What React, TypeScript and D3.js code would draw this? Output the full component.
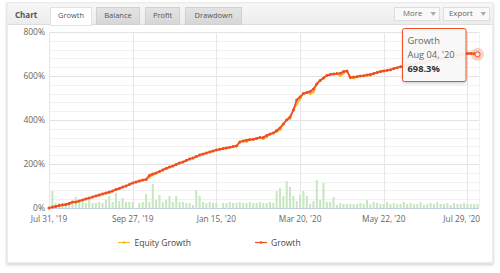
import React from 'react';
import * as d3 from 'd3';

const growth = [
  0, 4.5, 7, 11, 14, 16, 20, 27, 27, 32,
  36, 41, 45, 50, 55, 59, 64, 68, 73, 77,
  84, 89, 95, 100, 107, 114, 118, 123, 127, 130,
  148, 155, 159, 166, 173, 180, 186, 191, 198, 205,
  209, 216, 223, 227, 234, 241, 245, 250, 255, 259,
  264, 267, 270, 273, 276, 279, 282, 300, 305, 308,
  311, 312, 316, 320, 321, 330, 336, 341, 352, 364,
  382, 400, 414, 445, 491, 505, 520, 525, 530, 541,
  564, 580, 591, 602, 607, 609, 611, 612, 620, 623,
  594, 595, 597, 600, 601, 605, 607, 611, 616, 620,
  623, 626, 628, 634, 637, 642, 644, 649, 651, 655,
  657, 662, 663, 667, 669, 674, 675, 679, 681, 686,
  687, 692, 693, 697, 700, 702, 703, 701, 698.3,
];

const equity = [
  0, 4.5, 7, 9, 14, 13, 17, 27, 27, 32,
  36, 41, 45, 50, 55, 59, 64, 68, 68, 77,
  84, 89, 95, 100, 107, 114, 118, 123, 127, 130,
  140, 150, 159, 166, 173, 180, 186, 191, 198, 205,
  209, 216, 223, 227, 234, 241, 245, 250, 255, 259,
  264, 267, 270, 273, 276, 279, 282, 300, 305, 300,
  311, 312, 316, 320, 314, 322, 336, 341, 345, 355,
  382, 400, 405, 445, 470, 495, 520, 525, 518, 527,
  564, 580, 591, 602, 607, 609, 611, 600, 612, 623,
  590, 590, 597, 600, 601, 605, 602, 611, 616, 620,
  623, 626, 628, 634, 637, 642, 644, 649, 651, 655,
  654, 662, 663, 667, 669, 674, 675, 674, 681, 686,
  687, 692, 693, 697, 700, 702, 703, 701, 698.3,
];

const volume = [
  0, 17, 5, 5, 5, 5, 6, 5, 11, 6,
  6, 5, 8, 5, 5, 6, 5, 8, 12, 6,
  15, 7, 10, 6, 6, 6, 0, 5, 6, 14,
  6, 24, 8, 13, 6, 8, 12, 6, 12, 6,
  6, 5, 5, 3, 18, 12, 6, 5, 6, 5,
  5, 0, 5, 5, 6, 5, 5, 6, 5, 5,
  6, 5, 5, 6, 5, 5, 6, 5, 17, 20,
  12, 27, 21, 12, 7, 13, 17, 12, 4, 7,
  28, 8, 25, 6, 6, 11, 3, 5, 4, 4,
  4, 4, 4, 5, 4, 8, 4, 6, 5, 4,
  4, 6, 4, 5, 4, 4, 6, 4, 5, 4,
  4, 6, 3, 4, 5, 4, 6, 4, 4, 5,
  3, 5, 4, 4, 5, 4, 4, 4, 4,
];

const tickIndex = [0, 25, 50, 75, 100, 125];
const tickLabels = ["Jul 31, '19", "Sep 27, '19", "Jan 15, '20", "Mar 20, '20", "May 22, '20", "Jul 29, '20"];
const yTicks = [0, 200, 400, 600, 800];
const tabs = ['Growth', 'Balance', 'Profit', 'Drawdown'];
const tabX = [50, 96, 145, 185];
const tabW = [41, 43, 34, 56];
const seriesNames = ['Equity Growth', 'Growth'];

const RED = '#ef4f26';
const YEL = '#f7bd22';
const FONT = '"Open Sans", sans-serif';

export default function App() {
  const left = 49, right = 479, top = 32, bottom = 208;
  const x = d3.scaleLinear().domain([0, growth.length - 1]).range([49, 477.5]);
  const y = d3.scaleLinear().domain([0, 800]).range([bottom, top]);
  const yv = d3.scaleLinear().domain([0, 30]).range([bottom, bottom - 30]);
  const line = d3.line<number>().x((_, i) => x(i)).y((d) => y(d));
  const minor = d3.range(0, 801, 40);
  const last = growth.length - 1;
  const mx = x(last), my = y(growth[last]);

  return (
    <svg width={500} height={273} style={{ position: 'absolute', left: 0, top: 0 }} fontFamily={FONT}>
      <defs>
        <linearGradient id="hdr" x1="0" x2="0" y1="0" y2="1">
          <stop offset="0" stopColor="#f7f7f7" />
          <stop offset="1" stopColor="#ececec" />
        </linearGradient>
        <linearGradient id="tab" x1="0" x2="0" y1="0" y2="1">
          <stop offset="0" stopColor="#e4e4e4" />
          <stop offset="1" stopColor="#d6d6d6" />
        </linearGradient>
        <filter id="sh" x="-5%" y="-5%" width="110%" height="115%">
          <feDropShadow dx="0" dy="1.5" stdDeviation="1.2" floodColor="#000" floodOpacity="0.18" />
        </filter>
      </defs>
      <rect x={0} y={0} width={500} height={273} fill="#fff" />
      {/* panel */}
      <rect x={7} y={3} width={486} height={260} fill="#fff" stroke="#dcdcdc" filter="url(#sh)" />
      <rect x={7.5} y={3.5} width={485} height={21} fill="url(#hdr)" />
      <line x1={7.5} x2={492.5} y1={24.5} y2={24.5} stroke="#dddddd" />
      <text x={15} y={18} fontSize={8} fontWeight="bold" fill="#555">Chart</text>
      {tabs.map((t, i) => (
        <g key={t}>
          <rect x={tabX[i] + 0.5} y={7.5} width={tabW[i]} height={i === 0 ? 18 : 17}
            fill={i === 0 ? '#fff' : 'url(#tab)'} stroke={i === 0 ? '#e2e2e2' : '#d0d0d0'} />
          <text x={tabX[i] + 0.5 + tabW[i] / 2} y={18.2} fontSize={7.5} fill="#555" textAnchor="middle">{t}</text>
        </g>
      ))}
      {i0Fix()}
      {/* buttons */}
      <rect x={394.5} y={7.5} width={45} height={13} fill="#f9f9f9" stroke="#dddddd" />
      <text x={403} y={16.3} fontSize={7.8} fill="#666">More</text>
      <path d="M430.5,12 L436,12 L433.25,16 Z" fill="#aaa" />
      <rect x={443.5} y={7.5} width={46} height={13} fill="#f9f9f9" stroke="#dddddd" />
      <text x={449} y={16.3} fontSize={7.8} fill="#666">Export</text>
      <path d="M480.5,12 L486,12 L483.25,16 Z" fill="#aaa" />

      {/* grid */}
      {minor.map((v) => (
        <line key={'m' + v} x1={left} x2={right} y1={Math.round(y(v)) + 0.5} y2={Math.round(y(v)) + 0.5}
          stroke={v % 200 === 0 ? '#e3e3e3' : '#f1f1f1'} />
      ))}
      {tickIndex.map((t) => (
        <line key={'v' + t} x1={Math.round(x(t)) + 0.5} x2={Math.round(x(t)) + 0.5} y1={top} y2={bottom}
          stroke="#e6e6e6" />
      ))}
      <line x1={right + 0.5} x2={right + 0.5} y1={top} y2={bottom} stroke="#f1f1f1" />
      {yTicks.map((v) => (
        <text key={'yl' + v} x={45} y={y(v) + 3} fontSize={8.5} fill="#666" textAnchor="end">{v}%</text>
      ))}
      {/* volume bars */}
      {volume.map((v, i) => (
        v > 0 ? <rect key={'b' + i} x={x(i) - 1} y={yv(v)} width={2} height={bottom - yv(v)} fill="#c7e7c1" /> : null
      ))}
      <line x1={left} x2={right} y1={bottom + 0.5} y2={bottom + 0.5} stroke="#c0d0e0" />
      {tickIndex.map((t, i) => {
        const isLast = i === tickIndex.length - 1;
        return (
          <text key={'xl' + t} x={isLast ? 480 : x(t)} y={222} fontSize={8.3} fill="#666"
            textAnchor={isLast ? 'end' : 'middle'}>{tickLabels[i]}</text>
        );
      })}
      {/* series */}
      <path d={line(equity) || ''} fill="none" stroke={YEL} strokeWidth={1.5} />
      {equity.map((v, i) => <circle key={'e' + i} cx={x(i)} cy={y(v)} r={1.2} fill={YEL} />)}
      <path d={line(growth) || ''} fill="none" stroke={RED} strokeWidth={1.8} strokeLinejoin="round" />
      {growth.map((v, i) => <circle key={'g' + i} cx={x(i)} cy={y(v)} r={1.5} fill={RED} />)}

      {/* hover marker */}
      <circle cx={mx} cy={my} r={6.5} fill={RED} fillOpacity={0.25} />
      <circle cx={mx} cy={my} r={2.6} fill="#fbe3dc" stroke={RED} strokeWidth={1} />

      {/* tooltip */}
      <rect x={402.5} y={28.5} width={63.5} height={53} rx={2} fill="#f8f8f8" fillOpacity={0.92}
        stroke={RED} strokeWidth={1} filter="url(#sh)" />
      <text x={407.5} y={44} fontSize={9.3} fill="#666">Growth</text>
      <text x={407.5} y={57.5} fontSize={9.3} fill="#666">Aug 04, '20</text>
      <text x={407.5} y={71.5} fontSize={9.3} fill="#333" fontWeight="bold">{growth[last]}%</text>

      {/* legend */}
      <g>
        <line x1={118} x2={130} y1={242.5} y2={242.5} stroke={YEL} strokeWidth={1.2} />
        <circle cx={124} cy={242.5} r={1.3} fill={YEL} />
        <text x={134.5} y={245.5} fontSize={8.5} fill="#444">{seriesNames[0]}</text>
        <line x1={255} x2={267} y1={242.5} y2={242.5} stroke={RED} strokeWidth={1.2} />
        <circle cx={261} cy={242.5} r={1.3} fill={RED} />
        <text x={271} y={245.5} fontSize={8.5} fill="#444">{seriesNames[1]}</text>
      </g>
    </svg>
  );
}

function i0Fix() {
  return null;
}
